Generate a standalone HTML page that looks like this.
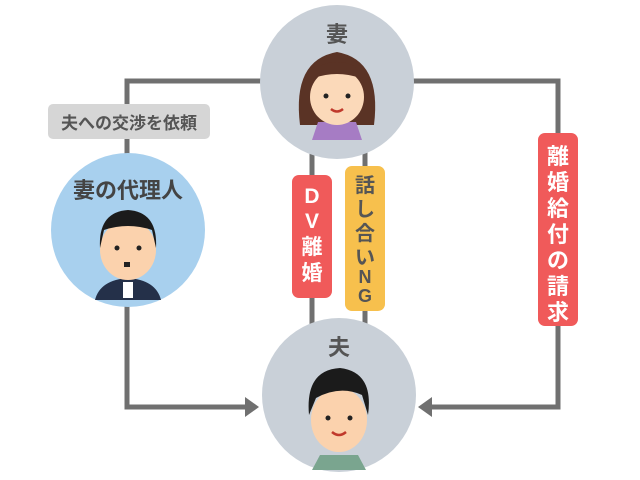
<!DOCTYPE html>
<html><head><meta charset="utf-8"><style>
html,body{margin:0;padding:0;background:#fff}
svg{display:block}
text{font-family:"Liberation Sans","Noto Sans CJK JP",sans-serif;font-weight:bold}
</style></head><body>
<svg width="640" height="480" viewBox="0 0 640 480" xmlns="http://www.w3.org/2000/svg">
<g stroke="#707070" stroke-width="5" fill="none">
<polyline points="262,81 127,81 127,407 248,407"/>
<polyline points="412,81 558,81 558,407 428,407"/>
<line x1="312" y1="150" x2="312" y2="330"/>
<line x1="365" y1="150" x2="365" y2="330"/>
</g>
<polygon points="259,407 245,397 245,417" fill="#707070"/>
<polygon points="418,407 432,397 432,417" fill="#707070"/>
<!-- wife -->
<circle cx="337" cy="82" r="77" fill="#c9d0d8"/>
<text x="337" y="42" font-size="22" fill="#555" text-anchor="middle">妻</text>
<path d="M300,125 Q292,60 337,52 Q382,60 374,125 Z" fill="#5a3325"/>
<path d="M318,122 L356,122 L362,140 L312,140 Z" fill="#a67cc4"/>
<ellipse cx="337" cy="97" rx="27" ry="28" fill="#fbd9b9"/>
<path d="M310,90 Q310,62 337,62 Q364,62 364,90 L360,78 Q337,70 314,78 Z" fill="#5a3325"/>
<circle cx="326" cy="96" r="2.5" fill="#222"/><circle cx="348" cy="96" r="2.5" fill="#222"/>
<path d="M331,109 Q337,114 343,109" stroke="#c0392b" stroke-width="2.5" fill="none"/>
<!-- agent -->
<circle cx="128" cy="230" r="77" fill="#a8d0ee"/>
<text x="128" y="198" font-size="22" fill="#444" text-anchor="middle">妻の代理人</text>
<path d="M95,300 Q100,280 128,278 Q156,280 161,300 Z" fill="#243049"/>
<rect x="123" y="282" width="10" height="16" fill="#fff"/>
<ellipse cx="128" cy="250" rx="28" ry="30" fill="#fbd2ad"/>
<path d="M100,248 Q98,212 128,210 Q158,212 156,248 L152,230 Q128,222 104,230 Z" fill="#1b1b1b"/>
<circle cx="117" cy="248" r="2.5" fill="#222"/><circle cx="139" cy="248" r="2.5" fill="#222"/>
<rect x="124" y="262" width="6" height="5" fill="#222"/>
<!-- husband -->
<circle cx="339" cy="395" r="77" fill="#c9d0d8"/>
<text x="339" y="355" font-size="22" fill="#555" text-anchor="middle">夫</text>
<path d="M320,455 L358,455 L366,470 L312,470 Z" fill="#7aa58f"/>
<ellipse cx="339" cy="420" rx="28" ry="32" fill="#fbd2ad"/>
<path d="M309,415 Q305,370 340,368 Q374,372 368,415 L362,395 Q340,385 316,398 Z" fill="#1b1b1b"/>
<circle cx="328" cy="418" r="2.5" fill="#222"/><circle cx="350" cy="418" r="2.5" fill="#222"/>
<path d="M332,432 Q339,438 346,432" stroke="#c0392b" stroke-width="2.5" fill="none"/>
<!-- labels -->
<rect x="48" y="104" width="162" height="35" rx="5" fill="#d6d6d6"/>
<text x="129" y="129" font-size="17" fill="#555" text-anchor="middle">夫への交渉を依頼</text>
<rect x="292" y="175" width="40" height="123" rx="7" fill="#f05a5a"/>
<g font-size="21" fill="#fff" text-anchor="middle">
<text x="312" y="203">D</text><text x="312" y="228">V</text><text x="312" y="254">離</text><text x="312" y="280">婚</text>
</g>
<rect x="345" y="166" width="40" height="145" rx="7" fill="#f7c04d"/>
<g font-size="20" fill="#555" text-anchor="middle">
<text x="365" y="192">話</text><text x="365" y="216">し</text><text x="365" y="240">合</text><text x="365" y="264">い</text><text x="365" y="275" font-size="0">.</text><text x="365" y="283" font-size="18">N</text><text x="365" y="302" font-size="18">G</text>
</g>
<rect x="538" y="133" width="40" height="193" rx="7" fill="#f05a5a"/>
<g font-size="22" fill="#fff" text-anchor="middle">
<text x="558" y="164">離</text><text x="558" y="190">婚</text><text x="558" y="216">給</text><text x="558" y="242">付</text><text x="558" y="268">の</text><text x="558" y="294">請</text><text x="558" y="320">求</text>
</g>
</svg>
</body></html>
